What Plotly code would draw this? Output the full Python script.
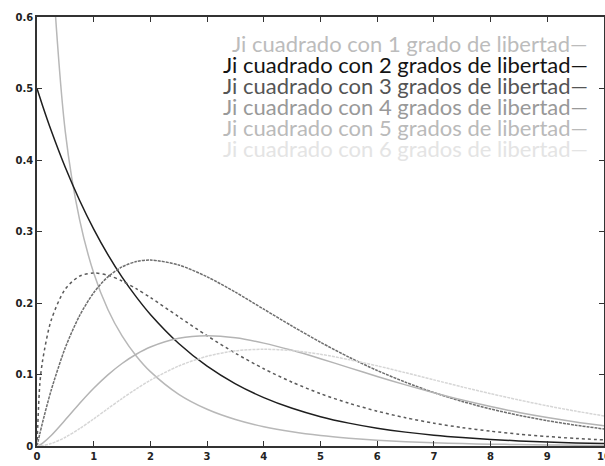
import plotly.graph_objects as go

x_vals = [0, 0.05, 0.1, 0.25, 0.5, 0.75, 1, 1.25, 1.5, 1.75, 2, 2.5, 3, 3.5, 4, 4.5,
          5, 5.5, 6, 6.5, 7, 7.5, 8, 8.5, 9, 9.5, 10]

gl1 = [None, None, 1.200, 0.704, 0.439, 0.317, 0.242, 0.191, 0.154, 0.126, 0.104, 0.0723,
       0.0514, 0.0371, 0.0270, 0.0198, 0.0146, 0.0109, 0.0081, 0.0061, 0.0046, 0.0034,
       0.0026, 0.0020, 0.0015, 0.0011, 0.00085]
gl2 = [0.5, 0.4877, 0.4756, 0.4412, 0.3894, 0.3437, 0.3033, 0.2676, 0.2362, 0.2085, 0.1839,
       0.1433, 0.1116, 0.0869, 0.0677, 0.0527, 0.0410, 0.0320, 0.0249, 0.0194, 0.0151,
       0.0118, 0.0092, 0.0071, 0.0056, 0.0043, 0.0034]
gl3 = [0, 0.0870, 0.1200, 0.1760, 0.2197, 0.2375, 0.2420, 0.2388, 0.2308, 0.2200, 0.2076,
       0.1807, 0.1542, 0.1297, 0.1080, 0.0892, 0.0732, 0.0598, 0.0487, 0.0395, 0.0319,
       0.0257, 0.0207, 0.0166, 0.0133, 0.0106, 0.0085]
gl4 = [0, 0.0172, 0.0336, 0.0780, 0.1377, 0.1822, 0.2144, 0.2366, 0.2505, 0.2579, 0.2601,
       0.2532, 0.2366, 0.2151, 0.1913, 0.1677, 0.1451, 0.1243, 0.1056, 0.0892, 0.0747,
       0.0623, 0.0518, 0.0429, 0.0354, 0.0291, 0.0238]
gl5 = [0, 0.0014, 0.0040, 0.0147, 0.0366, 0.0594, 0.0807, 0.0995, 0.1154, 0.1283, 0.1384,
       0.1506, 0.1542, 0.1513, 0.1439, 0.1338, 0.1221, 0.1096, 0.0973, 0.0855, 0.0744,
       0.0642, 0.0551, 0.0470, 0.0399, 0.0337, 0.0283]
gl6 = [0, 0.0002, 0.0006, 0.0034, 0.0122, 0.0242, 0.0379, 0.0523, 0.0664, 0.0798, 0.0920,
       0.1119, 0.1255, 0.1331, 0.1353, 0.1334, 0.1283, 0.1208, 0.1121, 0.1025, 0.0925,
       0.0826, 0.0732, 0.0644, 0.0562, 0.0488, 0.0421]

labels = [
    "Ji cuadrado con 1 grado de libertad—",
    "Ji cuadrado con 2 grados de libertad—",
    "Ji cuadrado con 3 grados de libertad—",
    "Ji cuadrado con 4 grados de libertad—",
    "Ji cuadrado con 5 grados de libertad—",
    "Ji cuadrado con 6 grados de libertad—",
]

series = [gl1, gl2, gl3, gl4, gl5, gl6]
line_colors = ["#b8b8b8", "#1e1e1e", "#5a5a5a", "#6e6e6e", "#b4b4b4", "#d6d6d6"]
line_dash = ["solid", "solid", "dot", "3px,1px", "solid", "3px,1px"]
text_colors = ["#bcbcbc", "#141414", "#555555", "#999999", "#bababa", "#e4e4e4"]

fig = go.Figure()
for ys, c, d in zip(series, line_colors, line_dash):
    fig.add_trace(go.Scatter(x=x_vals, y=ys, mode="lines",
                             line=dict(color=c, width=1.5, dash=d, shape="spline", smoothing=0.8),
                             showlegend=False, hoverinfo="skip"))

y_top = 0.939
step = 0.0489
for i, (t, c) in enumerate(zip(labels, text_colors)):
    fig.add_annotation(text=t, xref="paper", yref="paper", x=0.975, y=y_top - i * step,
                       xanchor="right", yanchor="middle", showarrow=False,
                       font=dict(family="Lato", size=22, color=c))

axis_common = dict(showgrid=False, zeroline=False, showline=True, linecolor="#333333",
                   linewidth=1.5, mirror="ticks", ticks="inside", ticklen=5, tickwidth=1.3,
                   tickcolor="#333333", automargin=False, ticklabeloverflow="allow",
                   tickfont=dict(family="DejaVu Sans", size=10, color="#222222", weight="bold"))

fig.update_xaxes(range=[0, 10], tickvals=[0, 1, 2, 3, 4, 5, 6, 7, 8, 9, 10], **axis_common)
fig.update_yaxes(range=[0, 0.6], tickvals=[0, 0.1, 0.2, 0.3, 0.4, 0.5, 0.6],
                 ticktext=["0", "0.1", "0.2", "0.3", "0.4", "0.5", "0.6"], **axis_common)

fig.update_layout(width=605, height=466, margin=dict(l=37, r=1, t=17, b=20),
                  paper_bgcolor="white", plot_bgcolor="white")

fig.write_html("out.html", config={"displayModeBar": False},
               post_script="document.body.style.margin='0';")
